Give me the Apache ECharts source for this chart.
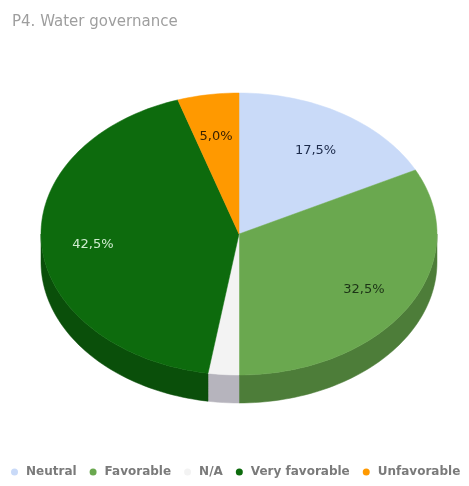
<!DOCTYPE html>
<html><head><meta charset="utf-8">
<script src="https://cdn.jsdelivr.net/npm/echarts@6/dist/echarts.min.js"></script>
<style>html,body{margin:0;padding:0;background:#fff}#c{width:469px;height:486px}</style>
</head><body><div id="c"></div>
<script>
const categories = ["Neutral", "Favorable", "N/A", "Very favorable", "Unfavorable"];
const values = [17.5, 32.5, 2.5, 42.5, 5.0];
const topColors = ["#c9daf8", "#6aa84f", "#f3f3f3", "#0d6b0d", "#ff9900"];
const sideColors = ["#9fb0cc", "#4d7d39", "#b6b4bd", "#0a4f0a", "#c77700"];
const labelColors = ["#1c2a4a", "#1c3316", "#333", "#cfeccf", "#3a2200"];

const total = values.reduce((a, b) => a + b, 0);
const CX = 239, CY = 234, RX = 198, RY = 141, DEPTH = 28;

function pt(deg, dy) {
  const r = deg * Math.PI / 180;
  return [CX + RX * Math.sin(r), CY - RY * Math.cos(r) + (dy || 0)];
}
function arc(a0, a1, dy) {
  const pts = [];
  const n = Math.max(2, Math.ceil((a1 - a0) / 1.5));
  for (let i = 0; i <= n; i++) pts.push(pt(a0 + (a1 - a0) * i / n, dy));
  return pts;
}

const series = categories.map((name, k) => {
  const before = values.slice(0, k).reduce((a, b) => a + b, 0);
  return {
    type: 'custom',
    name: name,
    coordinateSystem: 'none',
    itemStyle: { color: topColors[k] },
    data: [[values[k], before]],
    renderItem: function (params, api) {
      const v = api.value(0), b = api.value(1);
      const a0 = b / total * 360, a1 = (b + v) / total * 360;
      const children = [];
      children.push({
        type: 'polygon', z2: 10,
        shape: { points: [[CX, CY]].concat(arc(a0, a1, 0)) },
        style: { fill: topColors[k], stroke: topColors[k], lineWidth: 0.5 }
      });
      const s = Math.max(a0, 90), e = Math.min(a1, 270);
      if (e > s) {
        const topArc = arc(s, e, 0);
        const botArc = arc(s, e, DEPTH).reverse();
        children.push({
          type: 'polygon', z2: 1,
          shape: { points: topArc.concat(botArc) },
          style: { fill: sideColors[k], stroke: sideColors[k], lineWidth: 0.5 }
        });
      }
      const pct = v / total * 100;
      if (pct >= 5) {
        const mid = (a0 + a1) / 2 * Math.PI / 180;
        const lx = CX + RX * 0.74 * Math.sin(mid);
        const ly = CY - RY * 0.72 * Math.cos(mid) + 3;
        children.push({
          type: 'text', z2: 20,
          style: {
            text: pct.toFixed(1).replace('.', ',') + '%',
            x: lx, y: ly, align: 'center', verticalAlign: 'middle',
            fill: labelColors[k], font: '13px "DejaVu Sans"'
          }
        });
      }
      return { type: 'group', children: children };
    }
  };
});

const chart = echarts.init(document.getElementById('c'), null, { renderer: 'canvas' });
chart.setOption({
  animation: false,
  backgroundColor: '#fff',
  title: {
    text: 'P4. Water governance', left: 7, top: 10,
    textStyle: { fontFamily: 'DejaVu Sans', fontSize: 15, fontWeight: 'normal', color: '#9e9e9e' }
  },
  legend: {
    data: categories, bottom: 8, left: 11, width: 458, padding: 0,
    icon: 'circle', itemWidth: 7, itemHeight: 7, itemGap: 13,
    textStyle: { fontFamily: 'DejaVu Sans', fontSize: 12, fontWeight: 'bold', color: '#7a7a7a', padding: [0, 0, 0, 3] }
  },
  series: series
});
</script></body></html>
